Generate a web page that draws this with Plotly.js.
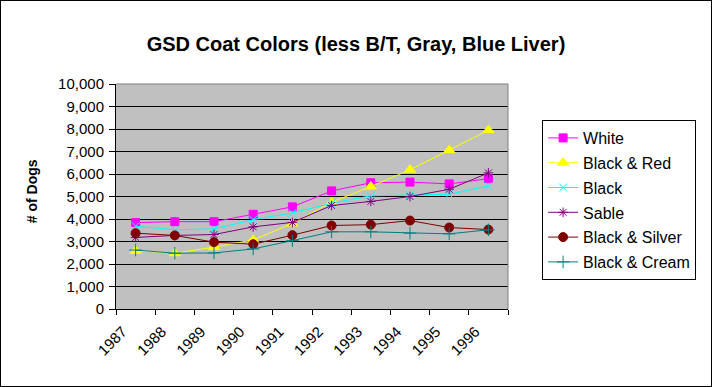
<!DOCTYPE html>
<html>
<head>
<meta charset="utf-8">
<script src="https://cdn.plot.ly/plotly-3.0.1.min.js"></script>
<style>
html,body{margin:0;padding:0;background:#fff;}
#wrap{position:relative;width:712px;height:387px;}
#chart{width:712px;height:387px;}
#frame{position:absolute;left:0;top:0;width:712px;height:387px;box-sizing:border-box;border:1px solid #000;pointer-events:none;}
</style>
</head>
<body>
<div id="wrap"><div id="chart"></div><div id="frame"></div></div>
<script>
const years = ['1987','1988','1989','1990','1991','1992','1993','1994','1995','1996'];
const white       = [3840, 3880, 3880, 4210, 4540, 5250, 5610, 5640, 5560, 5790];
const blackRed    = [2590, 2480, 2750, 3070, 3800, 4750, 5440, 6190, 7060, 7950];
const black       = [3680, 3520, 3560, 3970, 4270, 4700, 5030, 5060, 5100, 5470];
const sable       = [3180, 3270, 3310, 3650, 3850, 4600, 4780, 5000, 5320, 6050];
const blackSilver = [3370, 3270, 2970, 2880, 3280, 3710, 3750, 3930, 3620, 3530];
const blackCream  = [2620, 2480, 2490, 2670, 3040, 3430, 3430, 3370, 3340, 3520];

const seriesNames = ['White','Black & Red','Black','Sable','Black & Silver','Black & Cream'];
const seriesData = [white, blackRed, black, sable, blackSilver, blackCream];
const seriesColors = ['#FF00FF','#FFFF00','#00FFFF','#800080','#800000','#008080'];
const seriesSymbols = ['square','triangle-up','x-thin-open','asterisk-open','circle','cross-thin-open'];
const seriesSizes = [8, 10, 8, 8, 9, 9];

const font = 'Liberation Sans, Arial, sans-serif';

const traces = seriesNames.map((n, i) => ({
  type: 'scatter',
  mode: 'lines+markers',
  name: n,
  x: years,
  y: seriesData[i],
  legendgroup: 'g' + i,
  line: {color: seriesColors[i], width: 1},
  marker: {symbol: seriesSymbols[i], size: seriesSizes[i], color: seriesColors[i],
           line: {color: seriesColors[i], width: 1}}
}));

const layout = {
  width: 712, height: 387,
  margin: {l: 116, r: 204, t: 84, b: 78},
  paper_bgcolor: '#FFFFFF',
  plot_bgcolor: '#C0C0C0',
  font: {family: font, size: 15, color: '#000'},
  showlegend: true,
  title: {text: '<b>GSD Coat Colors (less B/T, Gray, Blue Liver)</b>',
          font: {family: font, size: 20, color: '#000'},
          x: 0.5, xref: 'container', y: 0.886, yref: 'container', yanchor: 'middle'},
  xaxis: {
    type: 'category', range: [-0.5, 9.5], tickson: 'boundaries',
    ticks: 'outside', ticklen: 5, tickcolor: '#000', tickwidth: 1,
    showline: true, linecolor: '#000', linewidth: 1,
    showgrid: false, zeroline: false, tickangle: -45, ticklabelshift: -13, ticklabelstandoff: 7,
    tickfont: {family: font, size: 15, color: '#000'}
  },
  yaxis: {
    range: [0, 10000], dtick: 1000, tick0: 0, tickformat: ',',
    ticks: 'outside', ticklen: 6, tickcolor: '#000', tickwidth: 1,
    showline: true, linecolor: '#000', linewidth: 1,
    showgrid: true, gridcolor: '#000', gridwidth: 1, zeroline: false,
    ticklabelstandoff: 2,
    tickfont: {family: font, size: 15, color: '#000'}
  },
  legend: {
    x: 1.087, y: 0.84, xanchor: 'left', yanchor: 'top',
    bgcolor: '#FFFFFF', bordercolor: '#000', borderwidth: 1,
    font: {family: font, size: 16, color: '#000'},
    traceorder: 'grouped', tracegroupgap: 1
  },
  annotations: [{
    text: '<b># of Dogs</b>', textangle: -90, showarrow: false,
    xref: 'paper', yref: 'paper', x: -0.214, y: 0.524,
    xanchor: 'center', yanchor: 'middle',
    font: {family: font, size: 14, color: '#000'}
  }],
  shapes: [
    {type: 'line', xref: 'paper', yref: 'paper', x0: 0, x1: 1, y0: 1, y1: 1, line: {color: '#808080', width: 1}, layer: 'above'},
    {type: 'line', xref: 'paper', yref: 'paper', x0: 1, x1: 1, y0: 0, y1: 1, line: {color: '#808080', width: 1}, layer: 'above'}
  ]
};

Plotly.newPlot('chart', traces, layout, {staticPlot: true, displayModeBar: false});
</script>
</body>
</html>
